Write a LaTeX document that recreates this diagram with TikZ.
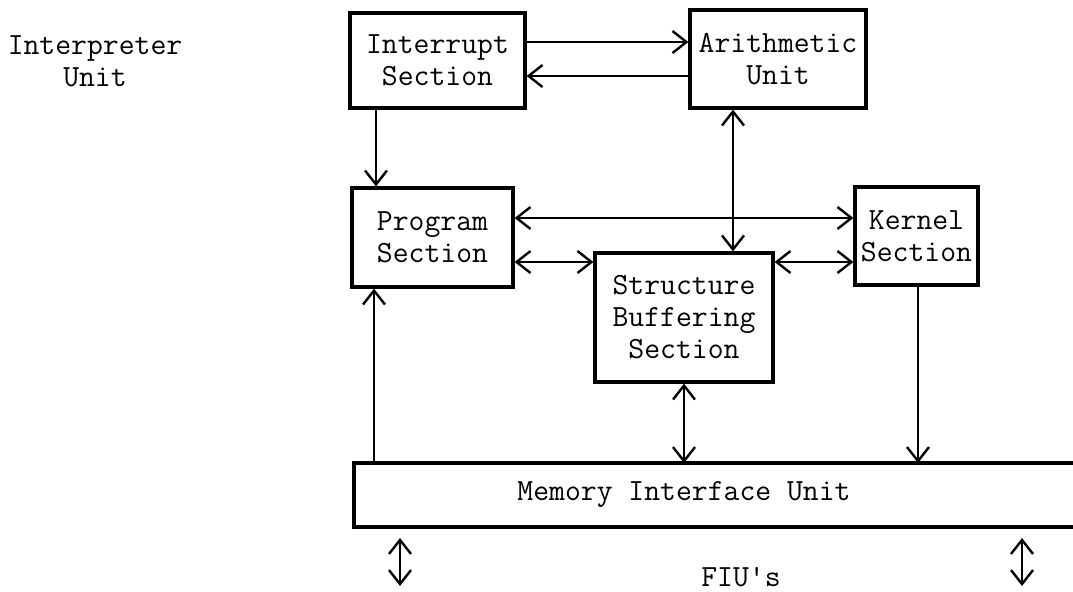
\documentclass[tikz,border=0pt]{standalone}
\usepackage{tikz}
\usetikzlibrary{arrows.meta}

\begin{document}
\begin{tikzpicture}[x=0.5pt, y=-0.5pt, >={Straight Barb[length=7pt,width=11pt]}, semithick]
  \tikzstyle{section} = [draw, line width=1.6pt, rectangle, inner sep=0pt, align=center, font={\ttfamily\fontsize{15.4}{16}\selectfont}]
  \tikzstyle{caption} = [inner sep=0pt, align=center, font={\ttfamily\fontsize{15.4}{16}\selectfont}]
  \tikzstyle{link} = [black, line width=1.2pt];

  \useasboundingbox (0,0) rectangle (1073,591);

  \coordinate (yA) at (0,42);
  \coordinate (yB) at (0,76);
  \coordinate (yC) at (0,218);
  \coordinate (yD) at (0,262);
  \coordinate (xA) at (376,0);
  \coordinate (xB) at (733,0);
  \coordinate (xP) at (374,0);
  \coordinate (xK) at (918,0);
  \coordinate (frameR) at (1073,0);
  \coordinate (memNW) at (354,463);
  \coordinate (memSW) at (354,527);
  \coordinate (ioLtop) at (400,538);
  \coordinate (ioLbot) at (400,586);
  \coordinate (ioRtop) at (1022,538);
  \coordinate (ioRbot) at (1022,586);

  \node[caption] (interp) at (95,61) {Interpreter\\Unit};
  \node[section, minimum width=87.5pt, minimum height=47.5pt] (interrupt) at (437.5,60.5) {Interrupt\\Section};
  \node[section, minimum width=88pt, minimum height=49pt] (arith) at (778,59) {Arithmetic\\Unit};
  \node[section, minimum width=80.5pt, minimum height=49.5pt] (program) at (432.5,237.5) {Program\\Section};
  \node[section, minimum width=61.5pt, minimum height=49pt] (kernel) at (916.5,236) {Kernel\\Section};
  \node[section, minimum width=89pt, minimum height=64.5pt] (struct) at (684,317.5) {Structure\\Buffering\\Section};
  \node[caption] (memory) at (684,494) {Memory Interface Unit};
  \node[caption] (fius) at (741,577) {FIU's};

  \draw[line width=1.6pt] (memNW -| frameR) -- (memNW) -- (memSW) -- (memSW -| frameR);

  \draw[link,->] (interrupt.east |- yA) -- (arith.west |- yA);
  \draw[link,->] (arith.west |- yB) -- (interrupt.east |- yB);
  \draw[link,->] (interrupt.south -| xA) -- (program.north -| xA);
  \draw[link,<->] (arith.south -| xB) -- (struct.north -| xB);
  \draw[link,<->] (program.east |- yC) -- (kernel.west |- yC);
  \draw[link,<->] (program.east |- yD) -- (struct.west |- yD);
  \draw[link,<->] (struct.east |- yD) -- (kernel.west |- yD);
  \draw[link,->] (memNW -| xP) -- (program.south -| xP);
  \draw[link,<->] (struct.south) -- (struct.south |- memNW);
  \draw[link,->] (kernel.south -| xK) -- (memNW -| xK);
  \draw[link,<->] (ioLtop) -- (ioLbot);
  \draw[link,<->] (ioRtop) -- (ioRbot);
\end{tikzpicture}
\end{document}
